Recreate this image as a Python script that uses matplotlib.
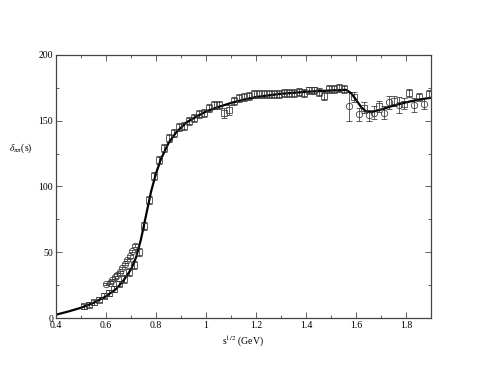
import numpy as np
import matplotlib
matplotlib.use('Agg')
from matplotlib import pyplot as plt
from matplotlib.ticker import MultipleLocator

plt.rcParams['font.family'] = ['Liberation Serif', 'DejaVu Serif']
plt.rcParams['mathtext.fontset'] = 'stix'

# fit curve (solid line)
curve_x = [0.40, 0.45, 0.50, 0.55, 0.60, 0.64, 0.67, 0.70, 0.72, 0.74, 0.76, 0.78, 0.80,
           0.82, 0.85, 0.88, 0.92, 0.96, 1.00, 1.05, 1.10, 1.15, 1.20, 1.30, 1.40,
           1.50, 1.56, 1.58, 1.60, 1.62, 1.64, 1.66, 1.70, 1.75, 1.80, 1.85, 1.90]
curve_y = [2.5, 5.0, 7.8, 11.5, 16.5, 22.0, 28.5, 37.0, 46.0, 60.0, 78.0, 96.0, 110.0,
           121.0, 133.0, 141.0, 148.5, 153.0, 157.0, 160.5, 163.5, 166.0, 168.0, 170.5, 172.0,
           173.0, 173.5, 171.0, 166.0, 160.5, 157.0, 156.5, 158.5, 161.5, 164.0, 166.0, 167.5]

# phase shift data, squares
sq_x = [0.51, 0.53, 0.55, 0.57, 0.59, 0.61, 0.63, 0.65, 0.67, 0.69, 0.71, 0.73, 0.75,
        0.77, 0.79, 0.81, 0.83, 0.85, 0.87, 0.89, 0.91, 0.93, 0.95, 0.97, 0.99, 1.01,
        1.03, 1.05, 1.07, 1.09, 1.11, 1.13, 1.15, 1.17, 1.19, 1.21, 1.23, 1.25, 1.27,
        1.29, 1.31, 1.33, 1.35, 1.37, 1.39, 1.41, 1.43, 1.45, 1.47, 1.49, 1.51, 1.53,
        1.55, 1.59, 1.63, 1.69, 1.75, 1.79, 1.81, 1.85, 1.89]
sq_y = [9, 10, 12, 14, 17, 19, 22, 26, 30, 35, 40, 50, 70,
        90, 108, 120, 129, 137, 141, 145, 146, 150, 152, 155, 156, 160,
        162, 162, 156, 158, 165, 167, 168, 169, 170, 170, 170, 170, 170,
        170, 171, 171, 171, 172, 171, 173, 173, 172, 169, 174, 174, 175,
        174, 168, 160, 161, 165, 163, 171, 168, 170]
sq_err = [2, 2, 2, 2, 2, 2, 2, 2, 3, 3, 3, 3, 3,
          3, 3, 3, 3, 3, 3, 3, 3, 3, 3, 3, 3, 3,
          3, 3, 4, 4, 3, 3, 3, 3, 3, 3, 3, 3, 3,
          3, 3, 3, 3, 3, 3, 3, 3, 3, 3, 3, 3, 3,
          3, 4, 4, 4, 4, 4, 3, 3, 3]

# phase shift data, circles
ci_x = [0.600, 0.615, 0.625, 0.635, 0.645, 0.655, 0.665, 0.675, 0.685, 0.695, 0.705, 0.715,
        1.57, 1.61, 1.65, 1.67, 1.71, 1.73, 1.77, 1.83, 1.87]
ci_y = [26, 27, 29, 31, 33, 35, 38, 41, 44, 47, 51, 55,
        161, 155, 154, 156, 156, 164, 162, 162, 163]
ci_err = [1, 1, 1, 1, 1, 1, 1, 1, 1, 1, 1, 1,
          11, 5, 4, 5, 5, 5, 6, 5, 4]

fig = plt.figure(figsize=(4.85, 3.74), dpi=100)
ax = fig.add_axes([0.1155, 0.1497, 0.7732, 0.7033])

ax.errorbar(sq_x, sq_y, yerr=sq_err, fmt='s', ms=3.8, mfc='none', mec='#333333',
            mew=0.55, ecolor='#333333', elinewidth=0.55, capsize=2.3, capthick=0.55)
ax.errorbar(ci_x, ci_y, yerr=ci_err, fmt='o', ms=4.6, mfc='none', mec='#333333',
            mew=0.55, ecolor='#333333', elinewidth=0.55, capsize=2.3, capthick=0.55)
ax.plot(curve_x, curve_y, color='black', lw=1.6)

ax.set_xlim(0.4, 1.9)
ax.set_ylim(0, 200)
ax.xaxis.set_minor_locator(MultipleLocator(0.1))
ax.yaxis.set_major_locator(MultipleLocator(50))
ax.yaxis.set_minor_locator(MultipleLocator(25))
ax.set_xticks([0.4, 0.6, 0.8, 1.0, 1.2, 1.4, 1.6, 1.8])
ax.set_xticklabels(['0.4', '0.6', '0.8', '1', '1.2', '1.4', '1.6', '1.8'])
ax.tick_params(which='both', direction='in', top=True, right=True, labelsize=7,
               color='#444444', width=0.6, pad=2)
ax.tick_params(which='major', length=4)
ax.tick_params(which='minor', length=2)
for s in ax.spines.values():
    s.set_color('#444444')
    s.set_linewidth(0.9)

fig.text(0.043, 0.604, r'$\delta_{\pi\pi}$(s)', fontsize=7, ha='center', va='center')
fig.text(0.501, 0.088, r's$^{1/2}$ (GeV)', fontsize=7, ha='center', va='center')

fig.savefig('out.png', dpi=100)
